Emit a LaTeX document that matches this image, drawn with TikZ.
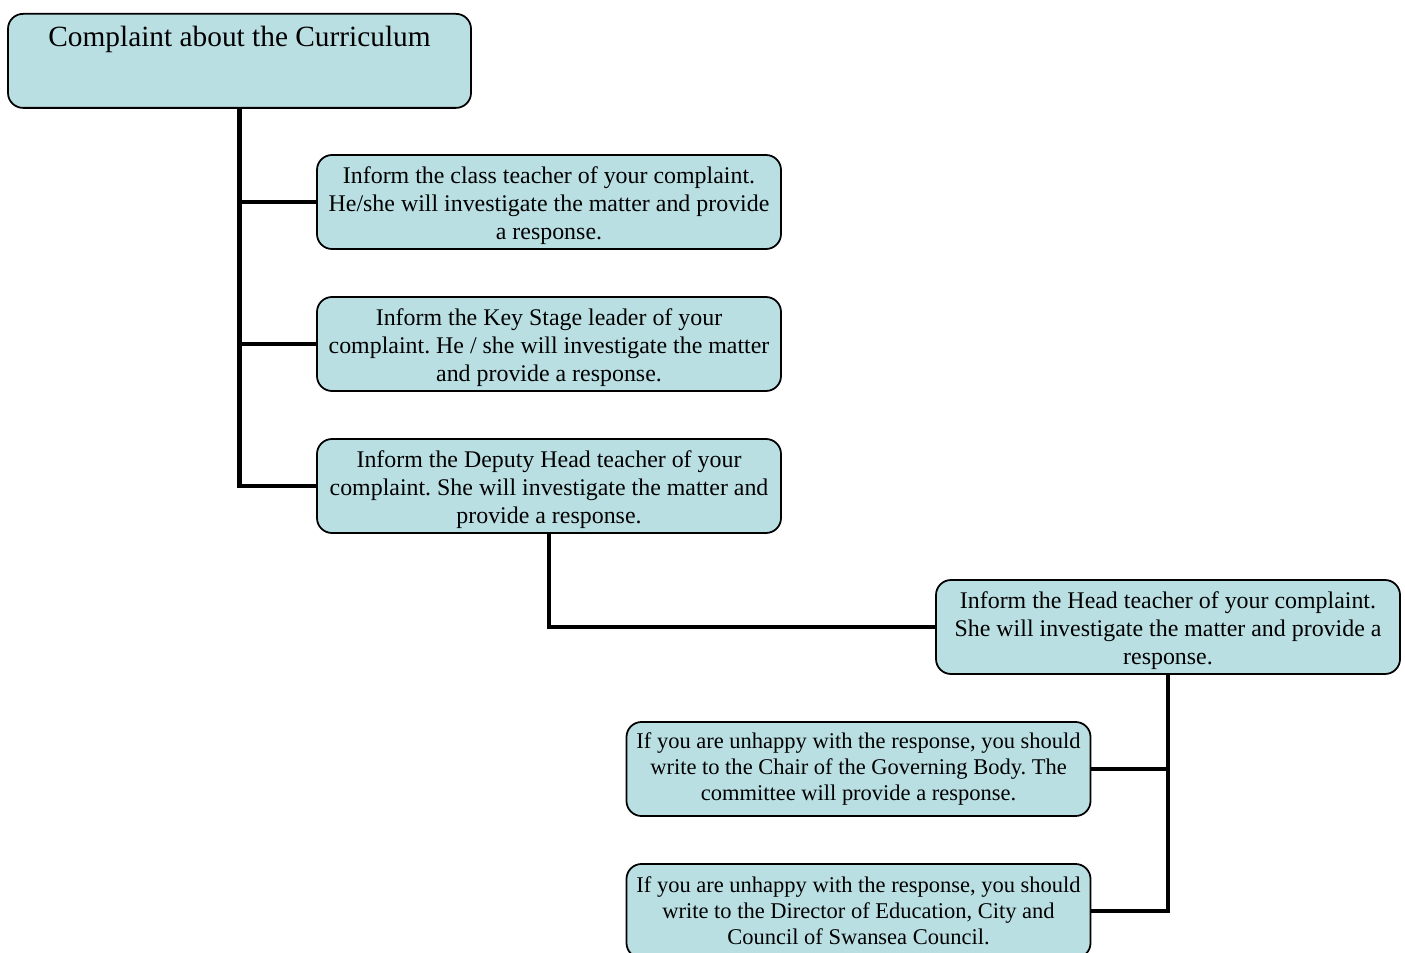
\documentclass[tikz,border=0pt]{standalone}
\usepackage{fontspec}
\setmainfont{Liberation Serif}
\usepackage{tikz}
\definecolor{boxblue}{RGB}{185,223,227}
\frenchspacing
\newcommand{\topgap}{\rule{0pt}{14pt}}

\begin{document}
\begin{tikzpicture}
  [x=0.2mm,y=-0.2mm,
   every node/.style={draw,rounded corners=3mm,fill=boxblue,line width=1pt,
     align=center,inner sep=0pt,font=\fontsize{13.6}{15.9}\selectfont},
   stepbox/.style={minimum width=92.8mm,minimum height=18.8mm},
   smallbox/.style={stepbox,font=\fontsize{12.8}{14.8}\selectfont},
   link/.style={line width=2.8pt}]
  \useasboundingbox (0,0) rectangle (1405,953);
  \node[anchor=north,minimum width=92.6mm,text height=6.6mm,text depth=12.2mm,
    font=\fontsize{16.7}{19}\selectfont] (top) at (239.5,13) {Complaint about the Curriculum};
  \node[stepbox] (s1) at (549,202) {\topgap Inform the class teacher of your complaint.\\He/she will investigate the matter and provide\\a response.};
  \node[stepbox] (s2) at (549,344) {\topgap Inform the Key Stage leader of your\\complaint. He / she will investigate the matter\\and provide a response.};
  \node[stepbox] (s3) at (549,486) {\topgap Inform the Deputy Head teacher of your\\complaint. She will investigate the matter and\\provide a response.};
  \node[stepbox] (s4) at (1168,627) {\topgap Inform the Head teacher of your complaint.\\She will investigate the matter and provide a\\response.};
  \node[smallbox] (s5) at (858.5,769) {If you are unhappy with the response, you should\\write to the Chair of the Governing Body. The\\committee will provide a response.};
  \node[smallbox] (s6) at (858.5,911) {If you are unhappy with the response, you should\\write to the Director of Education, City and\\Council of Swansea Council.};

  \draw[link] (top.south) |- (s3.west);
  \foreach \n in {s1,s2}
    \draw[link] (top.south |- \n.west) -- (\n.west);
  \draw[link] (s3.south) |- (s4.west);
  \draw[link] (s4.south) |- (s6.east);
  \draw[link] (s4.south |- s5.east) -- (s5.east);
\end{tikzpicture}
\end{document}
